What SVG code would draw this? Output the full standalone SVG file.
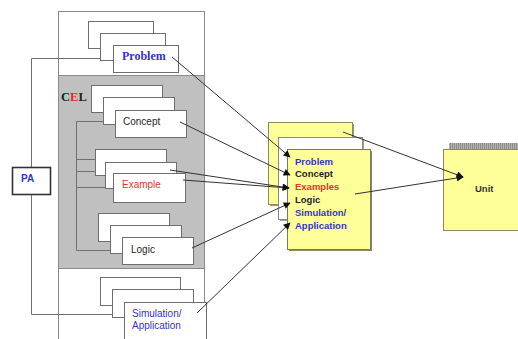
<svg xmlns="http://www.w3.org/2000/svg" width="518" height="339" viewBox="0 0 518 339">
  <style>
    .card { fill: #ffffff; stroke: #6e6e6e; stroke-width: 1; }
    .tree { fill: none; stroke: #707070; stroke-width: 1; }
    .arrow { fill: none; stroke: #333333; stroke-width: 1; marker-end: url(#head); }
    .sans { font-family: "Liberation Sans", Arial, sans-serif; }
    .serif { font-family: "Liberation Serif", "Times New Roman", serif; font-weight: bold; }
    .blue { fill: #3434c8; }
    .red { fill: #e8342c; }
    .dark { fill: #1e1e1e; }
    .note { fill: #ffff99; }
  </style>
  <defs>
    <marker id="head" viewBox="0 0 10 10" refX="9" refY="5" markerWidth="8" markerHeight="7" markerUnits="userSpaceOnUse" orient="auto">
      <path d="M0,0 L10,5 L0,10 z" fill="#111111"/>
    </marker>
    <pattern id="ticks" width="2" height="6" patternUnits="userSpaceOnUse">
      <rect width="2" height="6" fill="#b4b4b4"/>
      <rect width="1" height="6" fill="#8c8c8c"/>
    </pattern>
  </defs>

  <rect width="518" height="339" fill="#ffffff"/>

  <!-- course container with the CEL band -->
  <g id="container">
    <rect x="58.5" y="11.5" width="146" height="340" fill="#ffffff" stroke="#8a8a8a"/>
    <rect x="58.5" y="75.5" width="146" height="193" fill="#c0c0c0" stroke="#8a8a8a"/>
    <text x="61" y="101" class="serif" font-size="12.5"><tspan fill="#1e1e1e">C</tspan><tspan fill="#e0302a">E</tspan><tspan fill="#1e1e1e">L</tspan></text>
  </g>

  <!-- tree lines linking PA and the CEL stacks -->
  <g id="tree-lines" class="tree">
    <path d="M100,58.5 H31.5 V167"/>
    <path d="M31.5,194 V314.5 H112"/>
    <path d="M103,121.5 H76.5 V250.5 H110"/>
    <path d="M76.5,159.5 H95"/>
    <path d="M76.5,171.5 H105"/>
    <path d="M76.5,187.5 H113"/>
  </g>

  <g id="pa">
    <rect x="12.5" y="167.5" width="38" height="27" fill="#ffffff" stroke="#333333" stroke-width="1.6"/>
    <text x="21" y="182" class="sans blue" font-size="10" font-weight="bold">PA</text>
  </g>

  <g id="problem">
    <rect class="card" x="88.5" y="21.5" width="65" height="27"/>
    <rect class="card" x="100.5" y="33.5" width="65" height="27"/>
    <rect class="card" x="113.5" y="45.5" width="65" height="27"/>
    <text x="122" y="60" class="serif blue" font-size="12">Problem</text>
  </g>

  <g id="concept">
    <rect class="card" x="91.5" y="85.5" width="71" height="27"/>
    <rect class="card" x="103.5" y="97.5" width="71" height="27"/>
    <rect class="card" x="115.5" y="110.5" width="71" height="27"/>
    <text x="123" y="125" class="sans dark" font-size="10">Concept</text>
  </g>

  <g id="example">
    <rect class="card" x="95.5" y="149.5" width="71" height="26"/>
    <rect class="card" x="105.5" y="162.5" width="71" height="26"/>
    <rect class="card" x="113.5" y="173.5" width="72" height="29"/>
    <text x="122" y="188" class="sans red" font-size="10">Example</text>
  </g>

  <g id="logic">
    <rect class="card" x="98.5" y="213.5" width="71" height="28"/>
    <rect class="card" x="110.5" y="225.5" width="71" height="28"/>
    <rect class="card" x="122.5" y="237.5" width="71" height="27"/>
    <text x="131" y="253" class="sans dark" font-size="10">Logic</text>
  </g>

  <g id="simulation">
    <rect class="card" x="100.5" y="277.5" width="80" height="28"/>
    <rect class="card" x="112.5" y="289.5" width="81" height="28"/>
    <rect class="card" x="124.5" y="302.5" width="82" height="50"/>
    <text class="sans blue" font-size="10"><tspan x="132" y="317">Simulation/</tspan><tspan x="132" y="329">Application</tspan></text>
  </g>

  <!-- assembled lesson pages -->
  <g id="lesson">
    <rect x="270" y="124" width="84" height="82" fill="#9a9a70"/>
    <rect class="note" x="268.5" y="122.5" width="84" height="82" stroke="#8a8a6a"/>
    <rect x="280" y="139" width="84" height="82" fill="#a0a0a0"/>
    <rect x="278.5" y="137.5" width="84" height="82" fill="#ffffff" stroke="#8a8a8a"/>
    <rect x="289" y="151" width="83" height="100" fill="#8a8a6a"/>
    <rect class="note" x="287.5" y="149.5" width="83" height="100" stroke="#7a7a5a"/>
    <g class="sans" font-size="9.5" font-weight="bold">
      <text x="295" y="164.5" class="blue">Problem</text>
      <text x="295" y="177" class="dark">Concept</text>
      <text x="295" y="190" class="red">Examples</text>
      <text x="295" y="203" class="dark">Logic</text>
      <text x="295" y="215.5" class="blue">Simulation/</text>
      <text x="295" y="228.5" class="blue">Application</text>
    </g>
  </g>

  <g id="unit">
    <rect x="449" y="143" width="75" height="6" fill="url(#ticks)"/>
    <rect class="note" x="443.5" y="149.5" width="80" height="81" stroke="#8a8a6a"/>
    <text x="475" y="192" class="sans" font-size="9.5" font-weight="bold" fill="#333333">Unit</text>
  </g>

  <!-- arrows feeding the lesson and the unit -->
  <g id="connectors">
    <path class="arrow" d="M172,57 L290,157"/>
    <path class="arrow" d="M180,122 L290,175"/>
    <path class="arrow" d="M170,170 L289,188"/>
    <path class="arrow" d="M183,180 L289,188"/>
    <path class="arrow" d="M192,248 L290,203"/>
    <path class="arrow" d="M197,313 L290,223"/>
    <path class="arrow" d="M343,132 L463,177"/>
    <path class="arrow" d="M355,194 L463,177"/>
  </g>
</svg>
